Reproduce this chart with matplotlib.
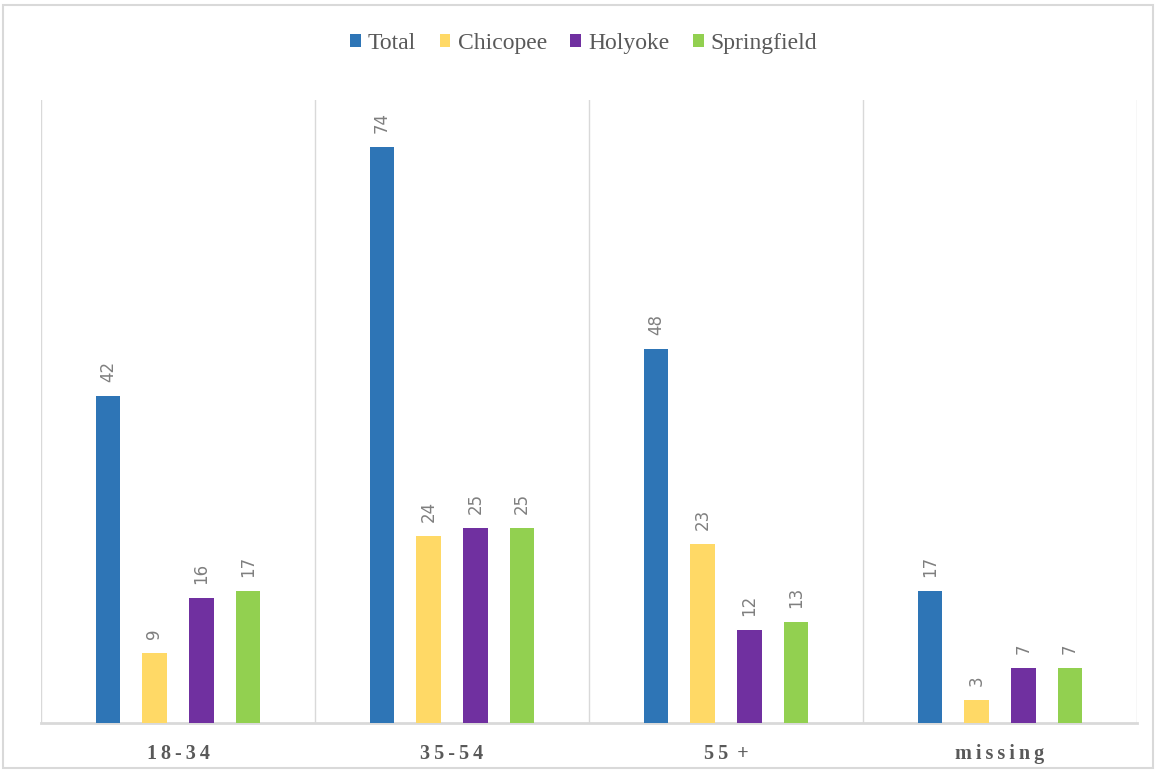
import matplotlib.pyplot as plt
import numpy as np
from matplotlib.patches import Rectangle

# age groups and counts per city
groups = ['1\u20098\u2009-\u20093\u20094', '3\u20095\u2009-\u20095\u20094', '5\u20095\u2009 +',
          'm\u2009i\u2009s\u2009s\u2009i\u2009n\u2009g']
series = ['Total', 'Chicopee', 'Holyoke', 'Springfield']
total = [42, 74, 48, 17]
chicopee = [9, 24, 23, 3]
holyoke = [16, 25, 12, 7]
springfield = [17, 25, 13, 7]
colors = ['#2e75b6', '#ffd966', '#7030a0', '#92d050']

values = [total, chicopee, holyoke, springfield]

fig = plt.figure(figsize=(11.56, 7.70), dpi=100)
ax = fig.add_axes([41 / 1156, 1 - 723 / 770, (1137 - 41) / 1156, (723 - 100) / 770])

ind = np.arange(len(groups))
width = 0.091
offsets = [-0.2555, -0.0858, 0.0858, 0.2555]

for vals, name, col, off in zip(values, series, colors, offsets):
    bars = ax.bar(ind + off, vals, width, color=col, label=name, zorder=3)
    for b, v in zip(bars, vals):
        ax.text(b.get_x() + b.get_width() / 2, v + 1.8, str(v), rotation=90,
                ha='center', va='bottom', fontsize=12, color='#7f7f7f',
                family='DejaVu Sans')

ax.set_xlim(-0.5, len(groups) - 0.5)
ax.set_ylim(0, 80)
ax.set_yticks([])
ax.set_xticks(ind)
ax.set_xticklabels(groups, fontsize=14.5, fontweight='bold', color='#595959',
                   family='Liberation Serif')
ax.tick_params(axis='x', length=0, pad=15)

# category separators
for x in np.arange(-0.5, len(groups), 1.0):
    ax.axvline(x, color='#d9d9d9', lw=1, zorder=1)

for s in ['top', 'left', 'right']:
    ax.spines[s].set_visible(False)
ax.spines['bottom'].set_color('#d9d9d9')
ax.spines['bottom'].set_linewidth(2)

leg = fig.legend(loc='upper center', bbox_to_anchor=(0.505, 0.985), ncol=4, frameon=False,
                 prop={'family': 'Liberation Serif', 'size': 17},
                 handlelength=0.45, handleheight=0.45, handletextpad=0.3, columnspacing=1.0)
for t in leg.get_texts():
    t.set_color('#595959')

# outer chart border
fig.patches.append(Rectangle((3 / 1156, 2 / 770), 1150 / 1156, 763 / 770,
                             transform=fig.transFigure, fill=False,
                             edgecolor='#d9d9d9', lw=1.5))

fig.savefig('out.png', dpi=100)
